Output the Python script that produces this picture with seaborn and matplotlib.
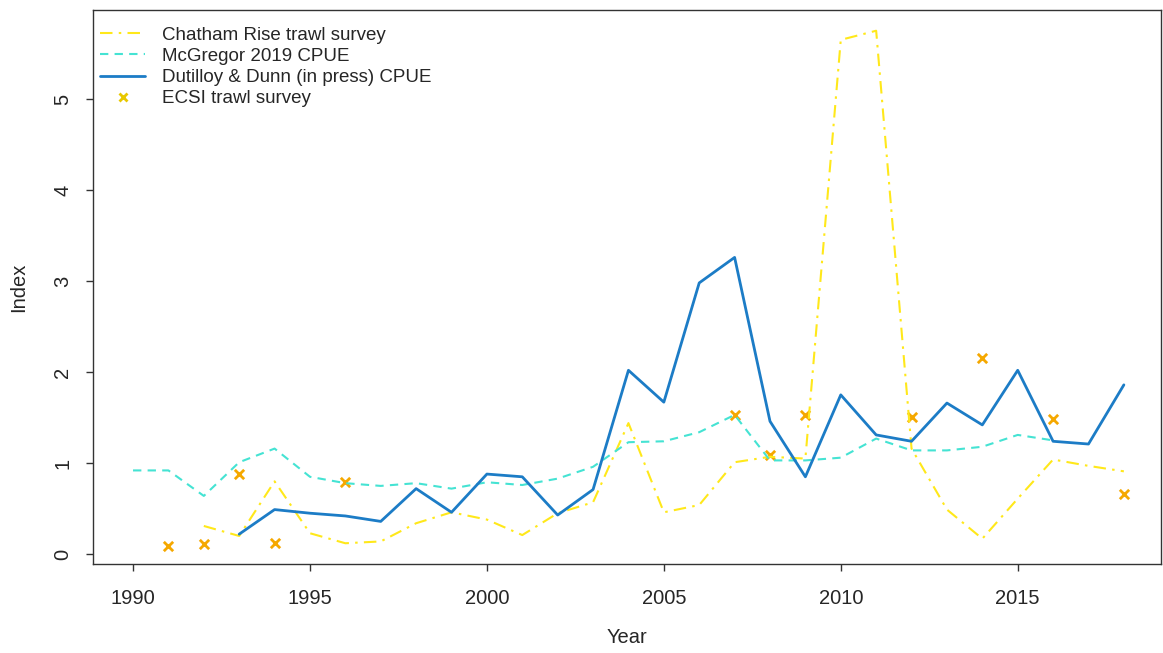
import matplotlib
matplotlib.use("Agg")
import matplotlib.pyplot as plt
from matplotlib.lines import Line2D
import numpy as np
import pandas as pd
import seaborn as sns

years = list(range(1990, 2019))
nan = np.nan

# Chatham Rise trawl survey (starts 1992)
chatham = [nan, nan, 0.31, 0.20, 0.80, 0.23, 0.12, 0.14, 0.34, 0.46,
           0.38, 0.21, 0.45, 0.57, 1.44, 0.46, 0.54, 1.01, 1.07, 1.05,
           5.65, 5.75, 1.16, 0.49, 0.17, 0.61, 1.04, 0.97, 0.91]
# McGregor 2019 CPUE (1990-2016)
mcgregor = [0.92, 0.92, 0.64, 1.01, 1.16, 0.85, 0.78, 0.75, 0.78, 0.72,
            0.79, 0.76, 0.83, 0.96, 1.23, 1.24, 1.34, 1.53, 1.03, 1.03,
            1.06, 1.27, 1.14, 1.14, 1.18, 1.31, 1.25, nan, nan]
# Dutilloy & Dunn (in press) CPUE (starts 1993)
dutilloy = [nan, nan, nan, 0.22, 0.49, 0.45, 0.42, 0.36, 0.72, 0.46,
            0.88, 0.85, 0.43, 0.71, 2.02, 1.67, 2.98, 3.26, 1.46, 0.85,
            1.75, 1.31, 1.24, 1.66, 1.42, 2.02, 1.24, 1.21, 1.86]
# ECSI trawl survey points
ecsi_years = [1991, 1992, 1993, 1994, 1996, 2007, 2008, 2009, 2012, 2014, 2016, 2018]
ecsi = [0.09, 0.11, 0.88, 0.12, 0.79, 1.53, 1.09, 1.53, 1.51, 2.16, 1.48, 0.66]

labels = ["Chatham Rise trawl survey", "McGregor 2019 CPUE",
          "Dutilloy & Dunn (in press) CPUE", "ECSI trawl survey"]

c_yellow = "#FFE81A"
c_cyan = "#45E3D3"
c_blue = "#1C7CC6"
c_orange = "#F5A800"

sns.set_style("white")
plt.rcParams.update({'font.family'     : ['Liberation Sans', 'DejaVu Sans'],
                     'font.size'       : 14,
                     'xtick.labelsize' : 14.5,
                     'ytick.labelsize' : 14.5,
                     'axes.labelsize'  : 14.5,
                     'axes.linewidth'  : 1.0})

df = pd.DataFrame({'year': years, 'chatham': chatham,
                   'mcgregor': mcgregor, 'dutilloy': dutilloy})
df_ecsi = pd.DataFrame({'year': ecsi_years, 'ecsi': ecsi})

fig = plt.figure(figsize=(11.63, 6.53), dpi=100)
ax = fig.add_axes([0.080, 0.136, 0.918, 0.849])

yellow_ls = (0, (6, 3, 1.2, 3))
cyan_ls = (0, (4, 3))

sns.lineplot(data=df.dropna(subset=['chatham']), x='year', y='chatham', ax=ax,
             color=c_yellow, lw=1.5, linestyle=yellow_ls)
sns.lineplot(data=df.dropna(subset=['mcgregor']), x='year', y='mcgregor', ax=ax,
             color=c_cyan, lw=1.5, linestyle=cyan_ls)
sns.lineplot(data=df.dropna(subset=['dutilloy']), x='year', y='dutilloy', ax=ax,
             color=c_blue, lw=2.0)
sns.scatterplot(data=df_ecsi, x='year', y='ecsi', ax=ax, marker='x',
                color=c_orange, s=45, linewidth=2.0)

ax.set_xlim(1988.87, 2019.04)
ax.set_ylim(-0.11, 5.98)
ax.set_xticks([1990, 1995, 2000, 2005, 2010, 2015])
ax.set_yticks([0, 1, 2, 3, 4, 5])
ax.tick_params(axis='both', direction='out', length=5, width=1, color='#333333',
               bottom=True, left=True)
ax.tick_params(axis='x', pad=13)
ax.tick_params(axis='y', pad=10)
for lab in ax.get_yticklabels():
    lab.set_rotation(90)
    lab.set_va('center')
ax.set_xlabel("Year", labelpad=14)
ax.set_ylabel("Index", labelpad=18)
for sp in ax.spines.values():
    sp.set_color('#333333')
    sp.set_visible(True)

handles = [Line2D([], [], color=c_yellow, lw=1.5, linestyle=yellow_ls),
           Line2D([], [], color=c_cyan, lw=1.5, linestyle=cyan_ls),
           Line2D([], [], color=c_blue, lw=2.0),
           Line2D([], [], color='#E8C800', lw=0, marker='x', markersize=6, mew=2)]
ax.legend(handles, labels, loc='upper left', bbox_to_anchor=(-0.004, 0.99),
          frameon=False, handlelength=2.4, handletextpad=0.9,
          labelspacing=0.22, borderaxespad=0.2, fontsize=13.5)

plt.savefig('out.png', dpi=100)
